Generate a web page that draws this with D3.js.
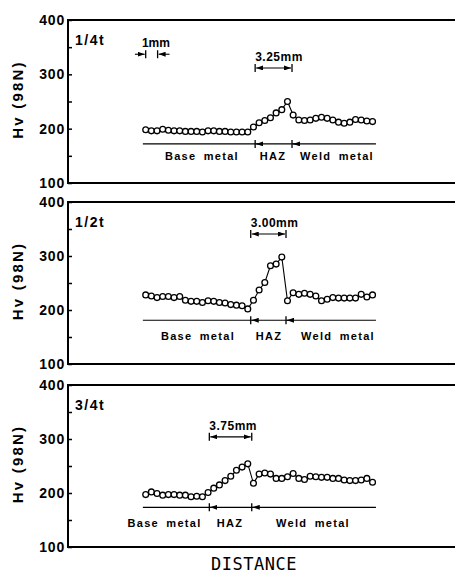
<!DOCTYPE html>
<html>
<head>
  <meta charset="utf-8">
  <title>Hardness distribution</title>
  <script src="https://d3js.org/d3.v7.min.js"></script>
  <style>
    body { margin: 0; background: #fff; }
    svg text { font-family: "Liberation Sans", Arial, sans-serif; fill: #000; }
    .axis text { font-size: 14px; font-weight: bold; letter-spacing: 0.8px; }
    .axis line { stroke: #000; stroke-width: 1.5px; }
  </style>
</head>
<body>
<div id="output"></div>

<script type="text/javascript">

  // distance along the traverse, mm (0.5 mm indentation pitch)
  var distance = [0, 0.5, 1, 1.5, 2, 2.5, 3, 3.5, 4, 4.5, 5, 5.5, 6, 6.5, 7, 7.5, 8, 8.5, 9, 9.5,
                  10, 10.5, 11, 11.5, 12, 12.5, 13, 13.5, 14, 14.5, 15, 15.5, 16, 16.5, 17, 17.5,
                  18, 18.5, 19, 19.5, 20];

  var positions = ["1/4t", "1/2t", "3/4t"];

  // Vickers hardness, Hv (98N)
  var hvQuarter = [198, 196, 196, 199, 197, 196, 196, 195, 195, 195, 194, 196, 196, 195, 195, 194, 194, 194, 194,
                   203, 211, 215, 220, 229, 235, 250,
                   225, 216, 215, 216, 219, 221, 219, 216, 212, 210, 212, 217, 216, 214, 213];
  var hvHalf = [228, 226, 223, 225, 225, 223, 225, 218, 216, 216, 214, 217, 216, 214, 213, 210, 209, 208, 202,
                218, 237, 251, 282, 285, 298,
                217, 232, 229, 231, 229, 226, 217, 220, 223, 222, 222, 222, 222, 229, 224, 228];
  var hvThreeQuarter = [197, 202, 199, 196, 197, 197, 196, 196, 193, 194, 193,
                        201, 209, 215, 223, 231, 242, 248, 254,
                        218, 235, 237, 235, 227, 227, 230, 236, 227, 225, 231, 230, 229, 229, 227, 227, 224,
                        223, 223, 224, 227, 220];

  // HAZ boundaries (mm) and widths
  var hazStart = [9.65, 9.26, 5.61];
  var hazEnd = [12.9, 12.37, 9.35];
  var hazLabels = ["3.25mm", "3.00mm", "3.75mm"];

  var zoneNames = ["Base metal", "HAZ", "Weld metal"];
  var zoneCentres = [[4.96, 11.23, 16.87], [4.61, 10.87, 16.96], [1.66, 7.43, 14.75]];

  var yTicks = [100, 150, 200, 250, 300, 350, 400];

  var series = [hvQuarter, hvHalf, hvThreeQuarter];

  var w = 455, h = 580;
  var left = 68;
  var frames = [[20, 183], [202, 364], [385, 547]];
  var zoneLineHv = [172, 181, 173.5];
  var zoneTextDy = [16, 20, 20];
  var barHv = [311.7, 340.7, 304];

  var x = d3.scaleLinear()
          .domain([-6.85, 27.27])
          .range([left, w]);

  var svg = d3.select("#output").append("svg")
          .attr("width", w)
          .attr("height", h);

  svg.append("defs").append("marker")
          .attr("id", "arrow")
          .attr("viewBox", "0 0 7 5")
          .attr("refX", 7)
          .attr("refY", 2.5)
          .attr("markerWidth", 7)
          .attr("markerHeight", 5)
          .attr("markerUnits", "userSpaceOnUse")
          .attr("orient", "auto-start-reverse")
          .append("path")
          .attr("d", "M0,0L7,2.5L0,5z");

  function arrow(g, x1, x2, y) {
    g.append("line")
            .attr("x1", x1).attr("x2", x2)
            .attr("y1", y).attr("y2", y)
            .attr("stroke", "#000")
            .attr("stroke-width", 1.1)
            .attr("marker-end", "url(#arrow)");
  }

  function vtick(g, xx, y, len) {
    g.append("line")
            .attr("x1", xx).attr("x2", xx)
            .attr("y1", y - len).attr("y2", y + len)
            .attr("stroke", "#000")
            .attr("stroke-width", 1.3);
  }

  series.forEach(function(values, p) {
    var top = frames[p][0], bottom = frames[p][1];
    var y = d3.scaleLinear()
            .domain([100, 400])
            .range([bottom, top]);

    var g = svg.append("g");

    // axis ticks (inward) and labels
    var yAxis = d3.axisLeft(y)
            .tickValues(yTicks)
            .tickSizeInner(-4)
            .tickSizeOuter(0)
            .tickPadding(3)
            .tickFormat(function(d) { return d % 100 === 0 ? d : ""; });

    g.append("g")
            .attr("class", "axis")
            .attr("transform", "translate(" + left + ",0)")
            .call(yAxis)
            .call(function(a) { a.select(".domain").remove(); });

    // frame
    g.append("path")
            .attr("d", "M" + w + "," + top + "H" + left + "V" + bottom + "H" + w)
            .attr("fill", "none")
            .attr("stroke", "#000")
            .attr("stroke-width", 2);

    g.append("text")
            .attr("transform", "translate(18," + ((top + bottom) / 2 - 2) + ") rotate(-90)")
            .attr("text-anchor", "middle")
            .attr("dy", "0.35em")
            .style("font-size", "15px")
            .style("font-weight", "bold")
            .style("letter-spacing", "2.2px")
            .text("Hv (98N)");

    g.append("text")
            .attr("x", 75)
            .attr("y", top + 25)
            .style("font-size", "14px")
            .style("font-weight", "bold")
            .style("letter-spacing", "1.5px")
            .text(positions[p]);

    // zone line with boundary marks
    var zy = y(zoneLineHv[p]);
    g.append("line")
            .attr("x1", x(-0.25)).attr("x2", x(20.3))
            .attr("y1", zy).attr("y2", zy)
            .attr("stroke", "#000")
            .attr("stroke-width", 1.2);

    [hazStart[p], hazEnd[p]].forEach(function(b) {
      vtick(g, x(b), zy, 4);
      arrow(g, x(b) + 6, x(b) + 1, zy);
    });

    g.selectAll(".zone")
            .data(zoneNames)
            .enter()
            .append("text")
            .attr("x", function(d, i) { return x(zoneCentres[p][i]); })
            .attr("y", zy + zoneTextDy[p])
            .attr("text-anchor", "middle")
            .style("font-size", "11px")
            .style("font-weight", "bold")
            .style("letter-spacing", "1.3px")
            .style("word-spacing", "3px")
            .text(function(d) { return d; });

    // HAZ width dimension
    var by = y(barHv[p]);
    var bx1 = x(hazStart[p]), bx2 = x(hazEnd[p]);
    vtick(g, bx1, by, 4);
    vtick(g, bx2, by, 4);
    g.append("line")
            .attr("x1", bx1 + 1).attr("x2", bx2 - 1)
            .attr("y1", by).attr("y2", by)
            .attr("stroke", "#000")
            .attr("stroke-width", 1.1)
            .attr("marker-start", "url(#arrow)")
            .attr("marker-end", "url(#arrow)");
    g.append("text")
            .attr("x", bx1)
            .attr("y", by - 7)
            .style("font-size", "12px")
            .style("font-weight", "bold")
            .style("letter-spacing", "0.5px")
            .text(hazLabels[p]);

    // data
    var line = d3.line()
            .x(function(d, i) { return x(distance[i]); })
            .y(function(d) { return y(d); });

    g.append("path")
            .datum(values)
            .attr("d", line)
            .attr("fill", "none")
            .attr("stroke", "#000")
            .attr("stroke-width", 1.1);

    g.selectAll(".pt")
            .data(values)
            .enter()
            .append("circle")
            .attr("class", "pt")
            .attr("r", 2.9)
            .attr("cx", function(d, i) { return x(distance[i]); })
            .attr("cy", function(d) { return y(d); })
            .attr("fill", "#fff")
            .attr("stroke", "#000")
            .attr("stroke-width", 1.3);

    if (p === 0) {
      // 1 mm scale mark
      var sy = y(337);
      vtick(g, x(0), sy, 4);
      vtick(g, x(1.05), sy, 4);
      arrow(g, x(-0.95), x(0) - 1, sy);
      arrow(g, x(2.1), x(1.05) + 1, sy);
      g.append("text")
              .attr("x", x(0.9))
              .attr("y", y(350))
              .attr("text-anchor", "middle")
              .style("font-size", "12px")
              .style("font-weight", "bold")
              .text("1mm");
    }
  });

  svg.append("text")
          .attr("x", 254)
          .attr("y", 570)
          .attr("text-anchor", "middle")
          .style("font-family", "'DejaVu Sans Mono', monospace")
          .style("font-size", "17px")
          .style("letter-spacing", "0.5px")
          .text("DISTANCE");

</script>
</body>
</html>
